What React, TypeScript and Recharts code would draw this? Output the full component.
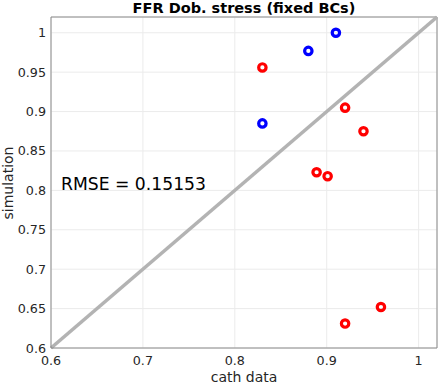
import React from 'react';
import { ScatterChart, Scatter, XAxis, YAxis, CartesianGrid, ReferenceLine } from 'recharts';

const xTicks = [0.6, 0.7, 0.8, 0.9, 1];
const yTicks = [0.6, 0.65, 0.7, 0.75, 0.8, 0.85, 0.9, 0.95, 1];
const axisMin = 0.6;
const axisMax = 1.02;

const blueX = [0.91, 0.88, 0.83];
const blueY = [1.0, 0.977, 0.885];
const redX = [0.83, 0.92, 0.94, 0.889, 0.901, 0.959, 0.92];
const redY = [0.956, 0.905, 0.875, 0.823, 0.818, 0.652, 0.631];

const blueData = blueX.map((x, i) => ({ x, y: blueY[i] }));
const redData = redX.map((x, i) => ({ x, y: redY[i] }));

const FONT = '"DejaVu Sans", sans-serif';
const AXIS_COLOR = '#8a8a8a';
const TEXT_COLOR = '#262626';

const ring = (color: string) => (props: any) => (
  <circle cx={props.cx} cy={props.cy} r={3.7} fill="none" stroke={color} strokeWidth={3.2} />
);

export default function App() {
  return (
    <div style={{ position: 'absolute', left: 0, top: 0, width: 439, height: 384, background: '#fff' }}>
      <ScatterChart width={439} height={384} margin={{ top: 17, right: 2, bottom: 0, left: 0 }}>
        <CartesianGrid stroke="#ebebeb" strokeWidth={1} />
        <XAxis
          type="number"
          dataKey="x"
          domain={[axisMin, axisMax]}
          ticks={xTicks}
          allowDataOverflow
          height={36}
          tickLine={false}
          tickSize={0}
          tickMargin={8}
          stroke={AXIS_COLOR}
          tick={{ fill: TEXT_COLOR, fontSize: 12.7, fontFamily: FONT }}
        />
        <YAxis
          type="number"
          dataKey="y"
          domain={[axisMin, axisMax]}
          ticks={yTicks}
          allowDataOverflow
          width={51}
          tickLine={false}
          tickSize={0}
          tickMargin={5}
          stroke={AXIS_COLOR}
          tick={{ fill: TEXT_COLOR, fontSize: 12.7, fontFamily: FONT }}
        />
        <ReferenceLine y={axisMax} stroke={AXIS_COLOR} strokeWidth={1} />
        <ReferenceLine x={axisMax} stroke={AXIS_COLOR} strokeWidth={1} />
        <ReferenceLine
          segment={[{ x: axisMin, y: axisMin }, { x: axisMax, y: axisMax }]}
          stroke="#b3b3b3"
          strokeWidth={3.6}
        />
        <Scatter data={redData} shape={ring('#ff0000')} isAnimationActive={false} />
        <Scatter data={blueData} shape={ring('#0000ff')} isAnimationActive={false} />
      </ScatterChart>
      <svg
        width={439}
        height={384}
        style={{ position: 'absolute', left: 0, top: 0, pointerEvents: 'none' }}
      >
        <text x={244} y={12.5} textAnchor="middle" fontFamily={FONT} fontWeight="bold" fontSize={14.5} fill="#000">
          FFR Dob. stress (fixed BCs)
        </text>
        <text x={244} y={382} textAnchor="middle" fontFamily={FONT} fontSize={14} fill={TEXT_COLOR}>
          cath data
        </text>
        <text
          x={0}
          y={0}
          transform="translate(13,183) rotate(-90)"
          textAnchor="middle"
          fontFamily={FONT}
          fontSize={14}
          fill={TEXT_COLOR}
        >
          simulation
        </text>
        <text x={61} y={189.5} fontFamily={FONT} fontSize={17.2} fill="#000">
          RMSE = 0.15153
        </text>
      </svg>
    </div>
  );
}
